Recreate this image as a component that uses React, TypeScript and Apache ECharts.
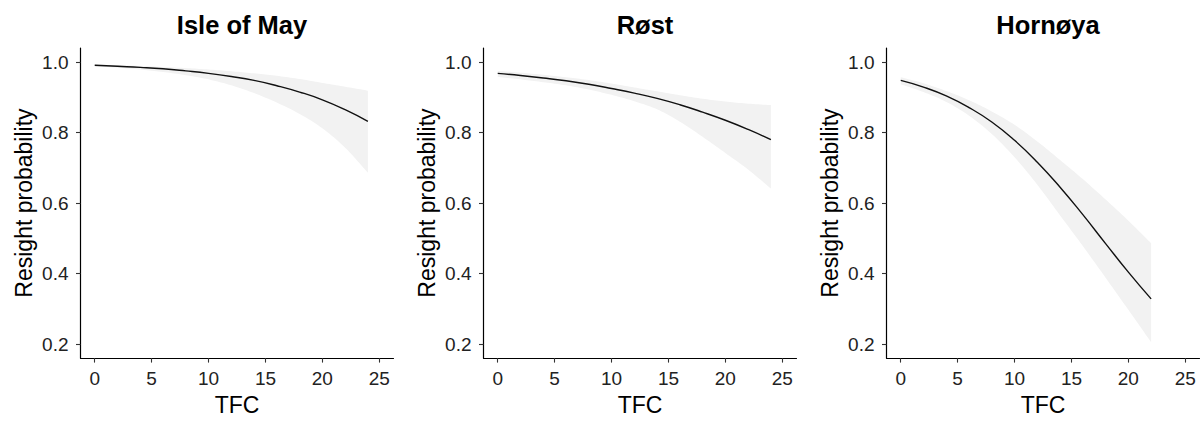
import React, { useEffect, useRef } from "react";
import * as echarts from "echarts";

// ---- data ----
const panelTitles = ["Isle of May", "Røst", "Hornøya"];
const xTicks = [0, 5, 10, 15, 20, 25];
const yTicks = [0.2, 0.4, 0.6, 0.8, 1.0];

const tfcMay = [0, 2, 4, 6, 8, 10, 12, 14, 16, 18, 20, 22, 24];
const fitMay = [0.991, 0.988, 0.985, 0.981, 0.975, 0.968, 0.959, 0.948, 0.933, 0.915, 0.893, 0.865, 0.832];
const upperMay = [0.993, 0.991, 0.989, 0.986, 0.983, 0.979, 0.974, 0.968, 0.961, 0.952, 0.941, 0.93, 0.919];
const lowerMay = [0.988, 0.984, 0.979, 0.972, 0.963, 0.951, 0.934, 0.912, 0.885, 0.853, 0.812, 0.757, 0.686];

const tfcRost = [0, 2, 4, 6, 8, 10, 12, 14, 16, 18, 20, 22, 24];
const fitRost = [0.968, 0.962, 0.955, 0.947, 0.937, 0.925, 0.912, 0.897, 0.879, 0.858, 0.835, 0.809, 0.78];
const upperRost = [0.975, 0.97, 0.964, 0.957, 0.949, 0.939, 0.928, 0.917, 0.906, 0.896, 0.888, 0.882, 0.878];
const lowerRost = [0.958, 0.951, 0.943, 0.934, 0.922, 0.907, 0.889, 0.866, 0.831, 0.788, 0.742, 0.695, 0.641];

const tfcHorn = [0, 2, 4, 6, 8, 10, 12, 14, 16, 18, 20, 22];
const fitHorn = [0.948, 0.929, 0.904, 0.871, 0.83, 0.778, 0.716, 0.645, 0.567, 0.485, 0.404, 0.328];
const upperHorn = [0.957, 0.94, 0.918, 0.892, 0.86, 0.822, 0.775, 0.722, 0.668, 0.61, 0.55, 0.486];
const lowerHorn = [0.937, 0.915, 0.887, 0.848, 0.796, 0.73, 0.652, 0.565, 0.478, 0.388, 0.297, 0.205];

const panels = [
  { x: tfcMay, fit: fitMay, upper: upperMay, lower: lowerMay },
  { x: tfcRost, fit: fitRost, upper: upperRost, lower: lowerRost },
  { x: tfcHorn, fit: fitHorn, upper: upperHorn, lower: lowerHorn },
];

// ---- layout ----
const W = 1204;
const H = 421;
const gridLefts = [80.5, 483.5, 886.5];
const gridTop = 48;
const gridW = 313;
const gridH = 313;
const FONT = "'Liberation Sans', Arial, Helvetica, sans-serif";
const BAND = "#f2f2f2";

// Catmull-Rom spline through screen points, sampled for drawing a smooth edge
function smoothEdge(pts: number[][], steps = 10): number[][] {
  const out: number[][] = [pts[0]];
  for (let i = 0; i < pts.length - 1; i++) {
    const p0 = pts[Math.max(0, i - 1)];
    const p1 = pts[i];
    const p2 = pts[i + 1];
    const p3 = pts[Math.min(pts.length - 1, i + 2)];
    const c1 = [p1[0] + (p2[0] - p0[0]) / 6, p1[1] + (p2[1] - p0[1]) / 6];
    const c2 = [p2[0] - (p3[0] - p1[0]) / 6, p2[1] - (p3[1] - p1[1]) / 6];
    for (let s = 1; s <= steps; s++) {
      const t = s / steps;
      const u = 1 - t;
      const a = u * u * u, b = 3 * u * u * t, c = 3 * u * t * t, d = t * t * t;
      out.push([
        a * p1[0] + b * c1[0] + c * c2[0] + d * p2[0],
        a * p1[1] + b * c1[1] + c * c2[1] + d * p2[1],
      ]);
    }
  }
  return out;
}

export default function App() {
  const ref = useRef<HTMLDivElement>(null);

  useEffect(() => {
    if (!ref.current) return;
    const chart = echarts.init(ref.current, undefined, { renderer: "svg" });

    const grid = gridLefts.map((l) => ({ left: l, top: gridTop, width: gridW, height: gridH, containLabel: false }));

    const title = panelTitles.map((t, i) => ({
      text: t,
      left: gridLefts[i] + gridW / 2,
      top: 7,
      textAlign: "center",
      textStyle: { fontFamily: FONT, fontSize: 25.5, fontWeight: "bold", color: "#000" },
    }));

    const xAxis = panels.map((_, i) => ({
      type: "value",
      gridIndex: i,
      min: -1.25,
      max: 26.25,
      name: "TFC",
      nameLocation: "middle",
      nameGap: 31,
      nameTextStyle: { fontFamily: FONT, fontSize: 23, color: "#000" },
      axisLine: { show: true, onZero: false, lineStyle: { color: "#000", width: 1.2 } },
      axisTick: { show: true, length: 4.5, customValues: xTicks, lineStyle: { color: "#333", width: 1.1 } },
      axisLabel: { customValues: xTicks, margin: 11, fontFamily: FONT, fontSize: 19, color: "#222" },
      splitLine: { show: false },
    }));

    const yAxis = panels.map((_, i) => ({
      type: "value",
      gridIndex: i,
      min: 0.16,
      max: 1.04,
      name: "Resight probability",
      nameLocation: "middle",
      nameRotate: 90,
      nameGap: 45,
      nameTextStyle: { fontFamily: FONT, fontSize: 23, color: "#000" },
      axisLine: { show: true, onZero: false, lineStyle: { color: "#000", width: 1.2 } },
      axisTick: { show: true, length: 4.5, customValues: yTicks, lineStyle: { color: "#333", width: 1.1 } },
      axisLabel: {
        customValues: yTicks,
        margin: 12,
        fontFamily: FONT,
        fontSize: 19,
        color: "#222",
        formatter: (v: number) => v.toFixed(1),
      },
      splitLine: { show: false },
    }));

    const series: any[] = [];
    panels.forEach((p, i) => {
      const bandData = p.x.map((x, k) => [x, p.lower[k], p.upper[k]]);
      series.push({
        type: "custom",
        coordinateSystem: "cartesian2d",
        xAxisIndex: i,
        yAxisIndex: i,
        data: bandData,
        encode: { x: 0, y: [1, 2] },
        silent: true,
        z: 1,
        renderItem: (params: any, api: any) => {
          if (params.dataIndex !== 0) return null;
          const top = bandData.map((d) => api.coord([d[0], d[2]]));
          const bottom = bandData
            .slice()
            .reverse()
            .map((d) => api.coord([d[0], d[1]]));
          const points = smoothEdge(top).concat(smoothEdge(bottom));
          return {
            type: "polygon",
            shape: { points },
            style: { fill: BAND, stroke: "none" },
          };
        },
      });
      series.push({
        type: "line",
        xAxisIndex: i,
        yAxisIndex: i,
        data: p.x.map((x, k) => [x, p.fit[k]]),
        symbol: "none",
        smooth: true,
        lineStyle: { color: "#111", width: 1.4 },
        z: 5,
      });
    });

    chart.setOption({
      animation: false,
      backgroundColor: "#fff",
      title,
      grid,
      xAxis,
      yAxis,
      series,
    });

    return () => chart.dispose();
  }, []);

  return (
    <div
      ref={ref}
      style={{ position: "fixed", left: 0, top: 0, width: W, height: H, background: "#fff" }}
    />
  );
}
